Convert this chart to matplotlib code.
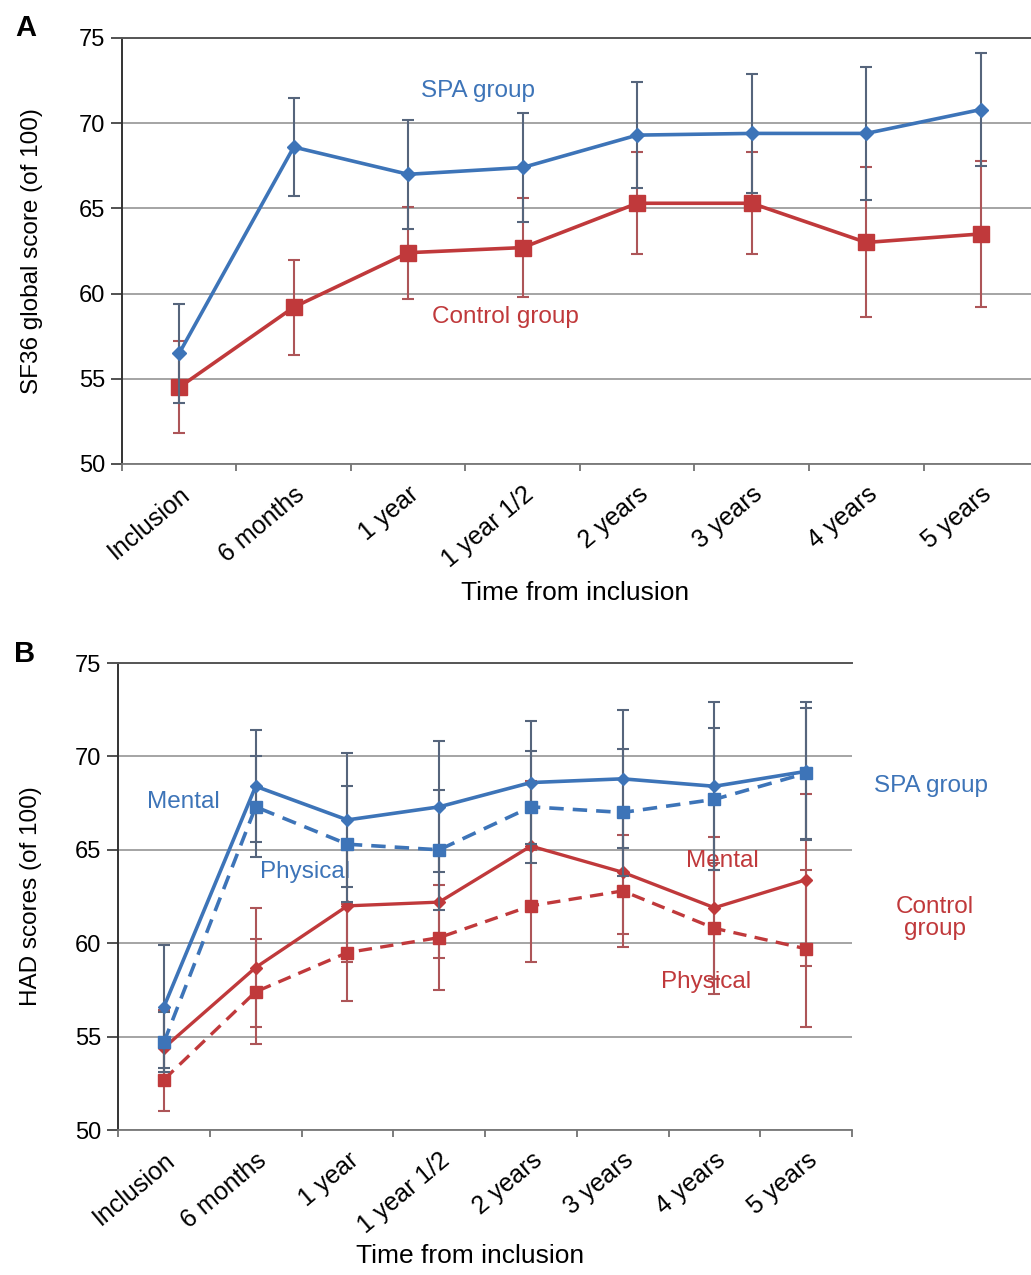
import matplotlib
matplotlib.use("Agg")
import matplotlib.pyplot as plt
from matplotlib.transforms import ScaledTranslation
import numpy as np

plt.rcParams['font.family'] = ['Liberation Sans', 'DejaVu Sans']

categories = ["Inclusion", "6 months", "1 year", "1 year 1/2", "2 years", "3 years", "4 years", "5 years"]

# Panel A: SF36 global score
spa_a = [56.5, 68.6, 67.0, 67.4, 69.3, 69.4, 69.4, 70.8]
spa_a_err = [2.9, 2.9, 3.2, 3.2, 3.1, 3.5, 3.9, 3.3]
ctrl_a = [54.5, 59.2, 62.4, 62.7, 65.3, 65.3, 63.0, 63.5]
ctrl_a_err = [2.7, 2.8, 2.7, 2.9, 3.0, 3.0, 4.4, 4.3]

# Panel B: HAD scores
spa_mental = [56.6, 68.4, 66.6, 67.3, 68.6, 68.8, 68.4, 69.2]
spa_mental_err = [3.3, 3.0, 3.6, 3.5, 3.3, 3.7, 4.5, 3.7]
spa_phys = [54.7, 67.3, 65.3, 65.0, 67.3, 67.0, 67.7, 69.1]
spa_phys_err = [1.6, 2.7, 3.1, 3.2, 3.0, 3.4, 3.8, 3.5]
ctrl_mental = [54.4, 58.7, 62.0, 62.2, 65.2, 63.8, 61.9, 63.4]
ctrl_mental_err = [2.0, 3.2, 3.0, 3.0, 3.5, 3.3, 3.8, 4.6]
ctrl_phys = [52.7, 57.4, 59.5, 60.3, 62.0, 62.8, 60.8, 59.7]
ctrl_phys_err = [1.7, 2.8, 2.6, 2.8, 3.0, 3.0, 3.5, 4.2]

BLUE = "#3d74b8"
RED = "#c0393b"
BLUE_ERR = "#56657c"
RED_ERR = "#ad5558"

fig = plt.figure(figsize=(10.31, 12.75), dpi=100)

def style_axes(ax):
    n = len(categories)
    ax.set_ylim(50, 75)
    ax.set_yticks([50, 55, 60, 65, 70, 75])
    ax.set_xlim(-0.5, n - 0.5)
    ax.set_xticks(range(n))
    ax.set_xticks(np.arange(-0.5, n, 1.0), minor=True)
    ax.set_xticklabels(categories, rotation=40, ha='right', va='top',
                       rotation_mode='anchor', fontsize=18)
    shift = ScaledTranslation(-5 / 72, 0, fig.dpi_scale_trans)
    for lbl in ax.get_xticklabels():
        lbl.set_transform(lbl.get_transform() + shift)
    ax.tick_params(axis='y', labelsize=17, direction='out', length=8, width=1.2,
                   color='#333333', pad=4)
    ax.tick_params(axis='x', which='major', length=0, pad=13)
    ax.tick_params(axis='x', which='minor', length=5, width=1.2, direction='out',
                   color='#666666')
    ax.grid(axis='y', color='#8c8c8c', linewidth=1.1)
    ax.set_axisbelow(True)
    ax.spines['right'].set_visible(False)
    ax.spines['bottom'].set_color('#777777')
    ax.spines['bottom'].set_linewidth(1.3)
    ax.spines['top'].set_color('#555555')
    ax.spines['top'].set_linewidth(1.4)
    ax.spines['left'].set_color('#333333')
    ax.spines['left'].set_linewidth(1.4)

x = np.arange(len(categories))
ekw = dict(elinewidth=1.5, capsize=4, capthick=1.5)

# ---------- Panel A ----------
axA = fig.add_axes([0.1183, 0.6361, 0.8885, 0.3341])
axA.errorbar(x, ctrl_a, yerr=ctrl_a_err, color=RED, ecolor=RED_ERR, lw=2.6,
             marker='s', ms=11, zorder=3, **ekw)
axA.errorbar(x, spa_a, yerr=spa_a_err, color=BLUE, ecolor=BLUE_ERR, lw=2.6,
             marker='D', ms=7, zorder=4, **ekw)
style_axes(axA)
axA.set_ylabel("SF36 global score (of 100)", fontsize=17.5)
axA.yaxis.set_label_coords(-0.086, 0.5)
axA.set_xlabel("Time from inclusion", fontsize=19)
axA.xaxis.set_label_coords(0.495, -0.275)
axA.text(2.61, 71.9, "SPA group", color=BLUE, fontsize=17.5, ha='center', va='center')
axA.text(2.85, 58.6, "Control group", color=RED, fontsize=17.5, ha='center', va='center')
fig.text(0.025, 0.978, "A", fontsize=21, fontweight='bold', ha='center', va='center')

# ---------- Panel B ----------
axB = fig.add_axes([0.1145, 0.1137, 0.7119, 0.3663])
axB.errorbar(x, ctrl_phys, yerr=ctrl_phys_err, color=RED, ecolor=RED_ERR, lw=2.4,
             ls=(0, (4, 2.5)), marker='s', ms=9, zorder=3, **ekw)
axB.errorbar(x, ctrl_mental, yerr=ctrl_mental_err, color=RED, ecolor=RED_ERR, lw=2.4,
             marker='D', ms=6, zorder=3, **ekw)
axB.errorbar(x, spa_phys, yerr=spa_phys_err, color=BLUE, ecolor=BLUE_ERR, lw=2.6,
             ls=(0, (4, 2.5)), marker='s', ms=9, zorder=4, **ekw)
axB.errorbar(x, spa_mental, yerr=spa_mental_err, color=BLUE, ecolor=BLUE_ERR, lw=2.6,
             marker='D', ms=6, zorder=4, **ekw)
style_axes(axB)
axB.set_ylabel("HAD scores (of 100)", fontsize=17.5)
axB.yaxis.set_label_coords(-0.1035, 0.5)
axB.set_xlabel("Time from inclusion", fontsize=19)
axB.xaxis.set_label_coords(0.48, -0.244)
axB.text(0.21, 67.56, "Mental", color=BLUE, fontsize=17.5, ha='center', va='center')
axB.text(1.54, 63.8, "Physical", color=BLUE, fontsize=17.5, ha='center', va='center')
axB.text(6.09, 64.4, "Mental", color=RED, fontsize=17.5, ha='center', va='center')
axB.text(5.91, 57.9, "Physical", color=RED, fontsize=17.5, ha='center', va='center')
axB.text(8.36, 68.42, "SPA group", color=BLUE, fontsize=17.5, ha='center', va='center',
         clip_on=False)
axB.text(8.40, 61.35, "Control\ngroup", color=RED, fontsize=17.5, ha='center', va='center',
         clip_on=False, linespacing=1.05)
fig.text(0.024, 0.487, "B", fontsize=21, fontweight='bold', ha='center', va='center')

fig.savefig("out.png", dpi=100)
